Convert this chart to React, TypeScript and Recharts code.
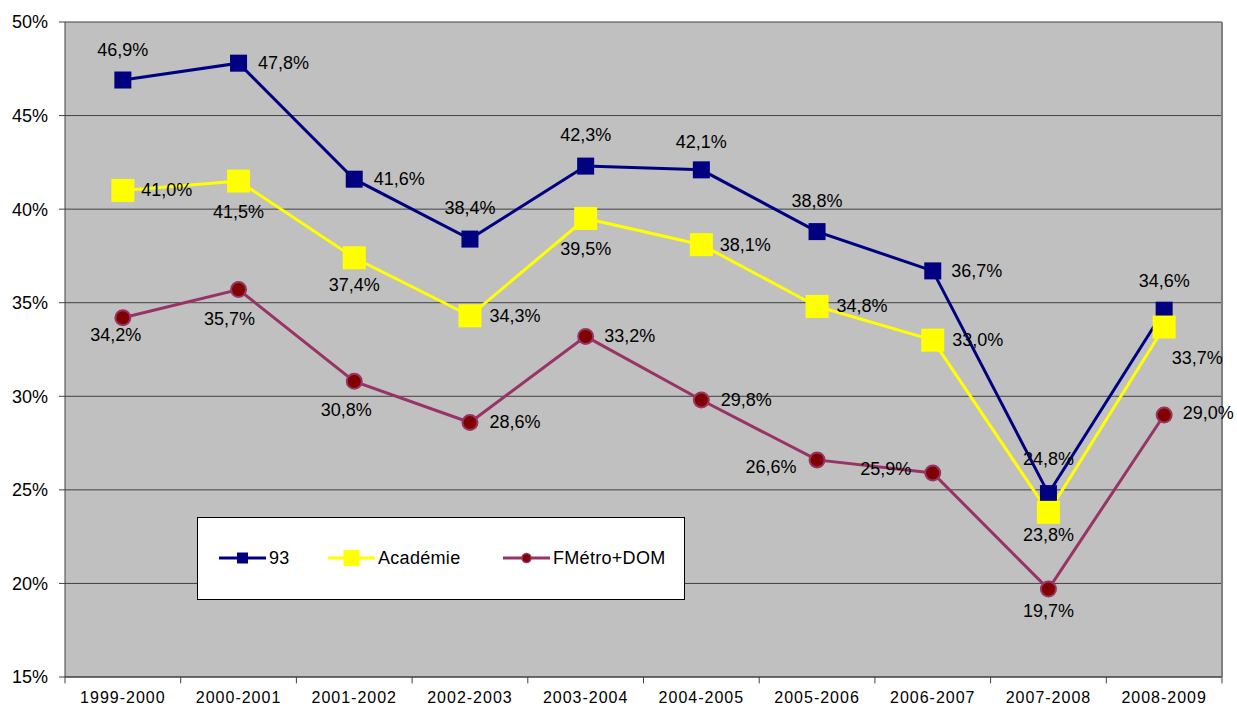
import { LineChart, Line, XAxis, YAxis, CartesianGrid, LabelList, ReferenceLine } from 'recharts'

const CATEGORIES = [
  '1999-2000', '2000-2001', '2001-2002', '2002-2003', '2003-2004',
  '2004-2005', '2005-2006', '2006-2007', '2007-2008', '2008-2009',
]
const SERIES_93 = [46.9, 47.8, 41.6, 38.4, 42.3, 42.1, 38.8, 36.7, 24.8, 34.6]
const SERIES_ACADEMIE = [41.0, 41.5, 37.4, 34.3, 39.5, 38.1, 34.8, 33.0, 23.8, 33.7]
const SERIES_FMETRO = [34.2, 35.7, 30.8, 28.6, 33.2, 29.8, 26.6, 25.9, 19.7, 29.0]
const Y_TICKS = [15, 20, 25, 30, 35, 40, 45, 50]

// label offsets (dx, dy) relative to each point, as placed in the original
const OFF_93 = [[0, -30], [45, 0], [45, 0], [0, -31], [0, -31], [0, -28], [0, -31], [44, 0], [0, -35], [0, -29]]
const OFF_ACA = [[44, 0], [0, 31], [0, 27], [45, 0], [0, 30], [44, 0], [45, 0], [45, 0], [0, 23], [33, 31]]
const OFF_FM = [[-7, 17], [-9, 29], [-8, 29], [45, 0], [44, 0], [45, 0], [-46, 7], [-47, -4], [0, 22], [44, -2]]

const NAVY = '#000080'
const YELLOW = '#FFFF00'
const MAROON = '#993366'
const DARKRED = '#800000'
const FONT = '"Liberation Sans", Arial, sans-serif'

const data = CATEGORIES.map((label, i) => ({
  i,
  label,
  s93: SERIES_93[i],
  aca: SERIES_ACADEMIE[i],
  fm: SERIES_FMETRO[i],
}))

const BOUNDARIES = [...CATEGORIES.map((_, i) => i - 0.5), CATEGORIES.length - 0.5]

const fmt = (v: number) => `${v.toFixed(1).replace('.', ',')}%`

function makeLabel(offsets: number[][]) {
  return (props: any) => {
    const { x, y, value, index } = props
    const [dx, dy] = offsets[index] || [0, 0]
    return (
      <text
        x={x + dx}
        y={y + dy}
        textAnchor="middle"
        dominantBaseline="central"
        fontSize={18}
        fontFamily={FONT}
        fill="#000"
      >
        {fmt(Number(value))}
      </text>
    )
  }
}

function SquareDot({ size, fill }: { size: number; fill: string }) {
  return (props: any) => {
    const { cx, cy, index } = props
    if (cx == null || cy == null) return <g key={index} />
    return <rect key={index} x={cx - size / 2} y={cy - size / 2} width={size} height={size} fill={fill} />
  }
}

const dot93 = SquareDot({ size: 17, fill: NAVY })
const dotAca = SquareDot({ size: 23, fill: YELLOW })
const dotFm = (props: any) => {
  const { cx, cy, index } = props
  if (cx == null || cy == null) return <g key={index} />
  return <circle key={index} cx={cx} cy={cy} r={7.5} fill={DARKRED} stroke={MAROON} strokeWidth={2} />
}

function LegendIcon({ color, marker }: { color: string; marker: 'sq' | 'big' | 'circle' }) {
  return (
    <svg width={47} height={20} style={{ display: 'block' }}>
      <line x1={0} y1={10} x2={47} y2={10} stroke={color} strokeWidth={3} />
      {marker === 'sq' && <rect x={18} y={4.5} width={11} height={11} fill={NAVY} />}
      {marker === 'big' && <rect x={15.5} y={2} width={16} height={16} fill={YELLOW} />}
      {marker === 'circle' && <circle cx={23.5} cy={10} r={4.5} fill={DARKRED} stroke={MAROON} strokeWidth={1.5} />}
    </svg>
  )
}

export default function App() {
  const legendItems = [
    { name: '93', color: NAVY, marker: 'sq' as const, left: 21 },
    { name: 'Académie', color: YELLOW, marker: 'big' as const, left: 130 },
    { name: 'FMétro+DOM', color: MAROON, marker: 'circle' as const, left: 305 },
  ]
  return (
    <div style={{ position: 'absolute', left: 0, top: 0, width: 1237, height: 713, background: '#fff', fontFamily: FONT }}>
      <LineChart width={1237} height={713} data={data} margin={{ top: 22, right: 15, left: 0, bottom: 0 }}>
        <CartesianGrid vertical={false} fill="#C0C0C0" stroke="#404040" strokeWidth={1} fillOpacity={1} />
        <XAxis
          dataKey="i"
          type="number"
          domain={[-0.5, CATEGORIES.length - 0.5]}
          ticks={CATEGORIES.map((_, i) => i)}
          interval={0}
          tickFormatter={(v) => CATEGORIES[v]}
          tickLine={false}
          tickMargin={9}
          height={36}
          axisLine={{ stroke: '#404040' }}
          tick={{ fontSize: 16, fill: '#000', fontFamily: FONT, letterSpacing: 1 }}
        />
        <YAxis
          domain={[15, 50]}
          ticks={Y_TICKS}
          interval={0}
          width={65}
          tickFormatter={(v) => `${v}%`}
          tickSize={6}
          tickMargin={11}
          axisLine={{ stroke: '#404040' }}
          tickLine={{ stroke: '#404040' }}
          tick={{ fontSize: 18, fill: '#000', fontFamily: FONT }}
        />
        <ReferenceLine x={CATEGORIES.length - 0.5} stroke="#808080" strokeWidth={2} />
        {BOUNDARIES.map((b) => (
          <ReferenceLine
            key={b}
            ifOverflow="visible"
            segment={[{ x: b, y: 15 }, { x: b, y: 14.66 }]}
            stroke="#404040"
          />
        ))}
        <Line
          dataKey="s93"
          stroke={NAVY}
          strokeWidth={3}
          dot={dot93}
          activeDot={false}
          isAnimationActive={false}
        >
          <LabelList dataKey="s93" content={makeLabel(OFF_93)} />
        </Line>
        <Line
          dataKey="aca"
          stroke={YELLOW}
          strokeWidth={3}
          dot={dotAca}
          activeDot={false}
          isAnimationActive={false}
        >
          <LabelList dataKey="aca" content={makeLabel(OFF_ACA)} />
        </Line>
        <Line
          dataKey="fm"
          stroke={MAROON}
          strokeWidth={3}
          dot={dotFm}
          activeDot={false}
          isAnimationActive={false}
        >
          <LabelList dataKey="fm" content={makeLabel(OFF_FM)} />
        </Line>
      </LineChart>
      <div
        style={{
          position: 'absolute',
          left: 197,
          top: 517,
          width: 486,
          height: 81,
          background: '#fff',
          border: '1px solid #000',
        }}
      >
        {legendItems.map((it) => (
          <div
            key={it.name}
            style={{ position: 'absolute', left: it.left, top: 30, display: 'flex', alignItems: 'center', gap: 3 }}
          >
            <LegendIcon color={it.color} marker={it.marker} />
            <span style={{ fontSize: 18, color: '#000', lineHeight: '20px', letterSpacing: 0.3 }}>{it.name}</span>
          </div>
        ))}
      </div>
    </div>
  )
}
